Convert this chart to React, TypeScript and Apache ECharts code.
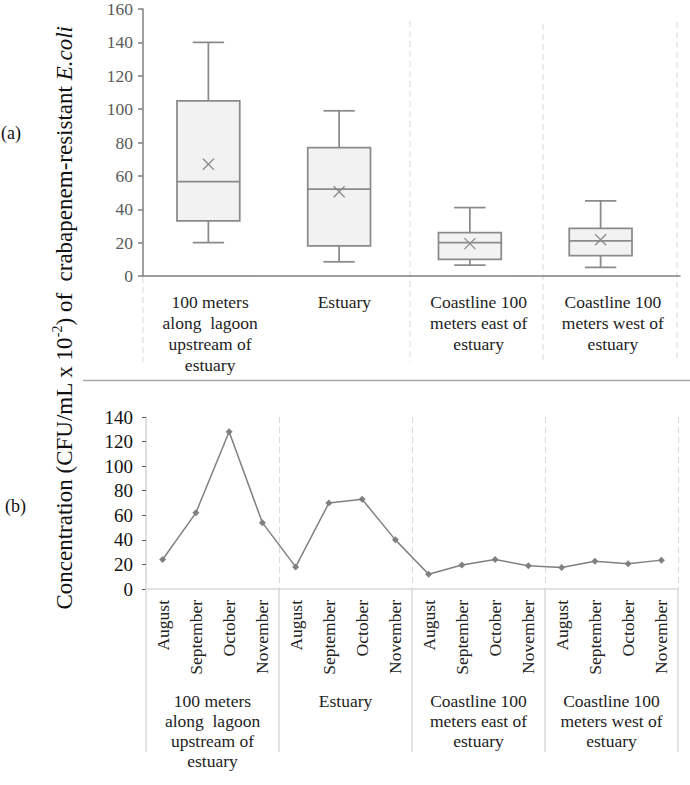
import React, { useEffect, useRef } from 'react';
import * as echarts from 'echarts';

// Sampling sites (category labels shared by both panels)
const sites = [
  '100 meters\nalong  lagoon\nupstream of\nestuary',
  'Estuary',
  'Coastline 100\nmeters east of\nestuary',
  'Coastline 100\nmeters west of\nestuary',
];
const months = ['August', 'September', 'October', 'November'];

// (a) distribution per site
const boxMin = [20, 8.5, 6.5, 5.2];
const boxQ1 = [33, 18, 10, 12.2];
const boxMedian = [56.5, 52, 20, 21];
const boxQ3 = [105, 77, 26, 28.5];
const boxMax = [140, 99, 41, 45];
const boxMean = [67, 50.5, 19.4, 21.7];

// (b) monthly concentration per site
const upstreamMonthly = [24, 62, 128, 54];
const estuaryMonthly = [18, 70, 73, 40];
const eastMonthly = [12, 19.5, 24, 19];
const westMonthly = [17.5, 22.5, 20.5, 23.5];

const topAxis = { min: 0, max: 160, interval: 20 };
const bottomAxis = { min: 0, max: 140, interval: 20 };

const SERIF = '"Liberation Serif", "Times New Roman", serif';
const BOX_STROKE = '#8a8a8a';
const GRID_LIGHT = '#d9d9d9';

export default function App() {
  const ref = useRef<HTMLDivElement>(null);

  useEffect(() => {
    if (!ref.current) return;
    const chart = echarts.init(ref.current, undefined, { renderer: 'svg' });

    const boxData = sites.map((_, i) => [
      i,
      boxMin[i],
      boxQ1[i],
      boxMedian[i],
      boxQ3[i],
      boxMax[i],
      boxMean[i],
    ]);

    const monthCats: string[] = [];
    sites.forEach(() => months.forEach((m) => monthCats.push(m)));
    const monthlyValues = [
      ...upstreamMonthly,
      ...estuaryMonthly,
      ...eastMonthly,
      ...westMonthly,
    ];

    const renderBox = (params: any, api: any) => {
      const idx = api.value(0);
      const pt = (v: number) => api.coord([idx, v]);
      const band = api.size([1, 0])[0];
      const bw = band * 0.48;
      const cw = bw / 2;
      const [cx, yMin] = pt(api.value(1));
      const yQ1 = pt(api.value(2))[1];
      const yMed = pt(api.value(3))[1];
      const yQ3 = pt(api.value(4))[1];
      const yMax = pt(api.value(5))[1];
      const yMean = pt(api.value(6))[1];
      const s = { stroke: BOX_STROKE, lineWidth: 1.75, fill: null };
      const m = 5.5;
      return {
        type: 'group',
        children: [
          { type: 'line', shape: { x1: cx, y1: yMax, x2: cx, y2: yQ3 }, style: s },
          { type: 'line', shape: { x1: cx, y1: yQ1, x2: cx, y2: yMin }, style: s },
          { type: 'line', shape: { x1: cx - cw / 2, y1: yMax, x2: cx + cw / 2, y2: yMax }, style: s },
          { type: 'line', shape: { x1: cx - cw / 2, y1: yMin, x2: cx + cw / 2, y2: yMin }, style: s },
          {
            type: 'rect',
            shape: { x: cx - bw / 2, y: yQ3, width: bw, height: yQ1 - yQ3 },
            style: { stroke: BOX_STROKE, lineWidth: 1.75, fill: '#f2f2f2' },
          },
          { type: 'line', shape: { x1: cx - bw / 2, y1: yMed, x2: cx + bw / 2, y2: yMed }, style: s },
          { type: 'line', shape: { x1: cx - m, y1: yMean - m, x2: cx + m, y2: yMean + m }, style: { stroke: BOX_STROKE, lineWidth: 1.3 } },
          { type: 'line', shape: { x1: cx - m, y1: yMean + m, x2: cx + m, y2: yMean - m }, style: { stroke: BOX_STROKE, lineWidth: 1.3 } },
        ],
      };
    };

    const dashed = { stroke: GRID_LIGHT, lineWidth: 1, lineDash: [6, 4] };

    chart.setOption({
      animation: false,
      backgroundColor: '#ffffff',
      textStyle: { fontFamily: SERIF },
      grid: [
        { left: 143, top: 6, width: 523, height: 270 },
        { left: 143, top: 6, width: 537, height: 270 },
        { left: 146, top: 417, width: 532, height: 172 },
        { left: 146, top: 417, width: 532, height: 172 },
      ],
      xAxis: [
        {
          gridIndex: 0,
          type: 'category',
          data: sites,
          axisLine: { show: false },
          axisTick: { show: false },
          axisLabel: { show: false },
          splitLine: { show: false },
        },
        {
          gridIndex: 1,
          type: 'category',
          data: sites,
          axisLine: { show: true, lineStyle: { color: '#7f7f7f', width: 1.5 } },
          axisTick: { show: false },
          axisLabel: {
            interval: 0,
            margin: 15,
            color: '#222',
            fontSize: 17.5,
            lineHeight: 21,
            fontFamily: SERIF,
          },
          splitLine: { show: false },
        },
        {
          gridIndex: 2,
          type: 'category',
          data: monthCats,
          axisLine: { show: true, lineStyle: { color: GRID_LIGHT, width: 1.5 } },
          axisTick: { show: false },
          axisLabel: {
            interval: 0,
            rotate: 90,
            margin: 11,
            color: '#222',
            fontSize: 17.5,
            fontFamily: SERIF,
          },
          splitLine: { show: false },
        },
        {
          gridIndex: 3,
          type: 'category',
          data: sites,
          axisLine: { show: false },
          axisTick: {
            show: true,
            interval: 0,
            length: 163,
            lineStyle: { color: GRID_LIGHT, width: 1.5 },
          },
          axisLabel: {
            interval: 0,
            margin: 102,
            color: '#222',
            fontSize: 17.5,
            lineHeight: 20,
            fontFamily: SERIF,
          },
          splitLine: {
            show: true,
            interval: 0,
            lineStyle: { color: GRID_LIGHT, width: 1, type: [6, 4] },
          },
        },
      ],
      yAxis: [
        {
          gridIndex: 0,
          type: 'value',
          ...topAxis,
          axisLine: { show: true, lineStyle: { color: '#7f7f7f', width: 1.5 } },
          axisTick: { show: true, length: 5, lineStyle: { color: '#7f7f7f', width: 1.5 } },
          axisLabel: { color: '#595959', fontSize: 17.5, margin: 10, fontFamily: SERIF },
          splitLine: { show: false },
        },
        { gridIndex: 1, type: 'value', ...topAxis, show: false },
        {
          gridIndex: 2,
          type: 'value',
          ...bottomAxis,
          axisLine: { show: true, lineStyle: { color: GRID_LIGHT, width: 1.5 } },
          axisTick: { show: true, length: 4, lineStyle: { color: '#595959', width: 1 } },
          axisLabel: { color: '#111', fontSize: 19, margin: 13, fontFamily: SERIF },
          splitLine: { show: false },
        },
        { gridIndex: 3, type: 'value', ...bottomAxis, show: false },
      ],
      series: [
        {
          type: 'custom',
          xAxisIndex: 0,
          yAxisIndex: 0,
          data: boxData,
          encode: { x: 0, y: [1, 2, 3, 4, 5, 6] },
          renderItem: renderBox,
          silent: true,
        },
        {
          type: 'line',
          xAxisIndex: 2,
          yAxisIndex: 2,
          data: monthlyValues,
          symbol: 'diamond',
          symbolSize: 7,
          lineStyle: { color: '#808080', width: 1.5 },
          itemStyle: { color: '#808080' },
          silent: true,
        },
      ],
      graphic: [
        // panel separators
        { type: 'line', silent: true, shape: { x1: 83, y1: 380.5, x2: 690, y2: 380.5 }, style: { stroke: '#a6a6a6', lineWidth: 1.5 } },
        { type: 'line', silent: true, shape: { x1: 143, y1: 277, x2: 143, y2: 362 }, style: dashed },
        { type: 'line', silent: true, shape: { x1: 410, y1: 21, x2: 410, y2: 362 }, style: dashed },
        { type: 'line', silent: true, shape: { x1: 543, y1: 24, x2: 543, y2: 362 }, style: dashed },
        { type: 'line', silent: true, shape: { x1: 677, y1: 22, x2: 677, y2: 362 }, style: dashed },
        // panel tags
        {
          type: 'text',
          silent: true,
          x: 1,
          y: 133,
          style: { text: '(a)', fontSize: 18, fontFamily: SERIF, fill: '#111', verticalAlign: 'middle' },
        },
        {
          type: 'text',
          silent: true,
          x: 5,
          y: 506,
          style: { text: '(b)', fontSize: 18, fontFamily: SERIF, fill: '#111', verticalAlign: 'middle' },
        },
        // shared y-axis title
        {
          type: 'text',
          silent: true,
          x: 64,
          y: 318,
          rotation: Math.PI / 2,
          style: {
            text: '{n|Concentration (CFU/mL x 10}{s|-2}{n|) of  crabapenem-resistant }{i|E.coli}',
            align: 'center',
            verticalAlign: 'middle',
            fill: '#111',
            fontFamily: SERIF,
            fontSize: 23,
            rich: {
              n: { fontSize: 23, fontFamily: SERIF, fill: '#111', lineHeight: 28 },
              s: { fontSize: 14, fontFamily: SERIF, fill: '#111', lineHeight: 28, verticalAlign: 'top' },
              i: { fontSize: 23, fontFamily: SERIF, fill: '#111', fontStyle: 'italic', lineHeight: 28 },
            },
          },
        },
      ],
    });

    return () => chart.dispose();
  }, []);

  return (
    <div
      ref={ref}
      style={{ position: 'absolute', left: 0, top: 0, width: 690, height: 785, background: '#fff' }}
    />
  );
}
